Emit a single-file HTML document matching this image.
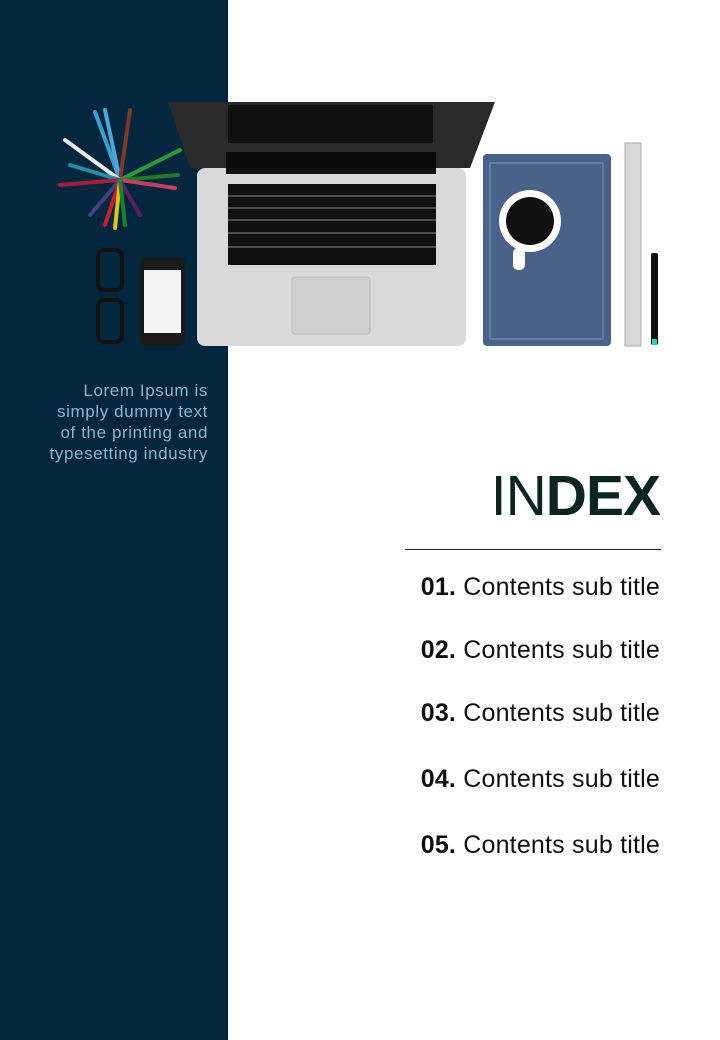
<!DOCTYPE html>
<html><head><meta charset="utf-8"><style>
body{margin:0;width:720px;height:1040px;position:relative;background:#fff;font-family:"Liberation Sans",sans-serif;overflow:hidden}
.l{position:absolute;left:0;top:0;width:228px;height:1040px;background:#03263f}
.a{position:absolute}
.lorem{position:absolute;right:512px;top:380px;text-align:right;color:#8ab6cf;font-size:17px;letter-spacing:0.6px;line-height:21px;white-space:nowrap}
.idx{position:absolute;right:60px;top:463px;font-size:57px;color:#0b2620;letter-spacing:-1px}
.hr{position:absolute;left:405px;top:549px;width:256px;height:1px;background:#222}
.it{position:absolute;right:60px;font-size:25px;color:#111;white-space:nowrap;letter-spacing:0.2px}
</style></head><body>
<div class="l"></div>
<svg class="a" style="left:0;top:0" width="720" height="360">
<g stroke-width="4" stroke-linecap="round">
<line x1="120" y1="180" x2="95" y2="112" stroke="#3aa0d0"/>
<line x1="120" y1="180" x2="105" y2="110" stroke="#4aa8d8"/>
<line x1="120" y1="180" x2="130" y2="110" stroke="#7a3a2a"/>
<line x1="120" y1="180" x2="65" y2="140" stroke="#e8e8e8"/>
<line x1="120" y1="180" x2="70" y2="165" stroke="#2a8aa8"/>
<line x1="120" y1="180" x2="180" y2="150" stroke="#2a9a3a"/>
<line x1="120" y1="180" x2="178" y2="175" stroke="#1a7a2a"/>
<line x1="120" y1="180" x2="175" y2="188" stroke="#c04060"/>
<line x1="120" y1="180" x2="60" y2="185" stroke="#a02040"/>
<line x1="120" y1="180" x2="90" y2="215" stroke="#404080"/>
<line x1="120" y1="180" x2="105" y2="225" stroke="#c02030"/>
<line x1="120" y1="180" x2="115" y2="228" stroke="#e0c020"/>
<line x1="120" y1="180" x2="140" y2="215" stroke="#602060"/>
<line x1="120" y1="180" x2="125" y2="225" stroke="#208030"/>
</g>
<g fill="none" stroke="#111" stroke-width="4">
<rect x="98" y="250" width="24" height="40" rx="6"/><rect x="98" y="300" width="24" height="42" rx="6"/>
</g>
<rect x="140" y="257" width="45" height="89" rx="6" fill="#1a1a1a"/>
<rect x="144" y="270" width="37" height="63" fill="#f4f4f4"/>
<polygon points="168,102 495,102 470,168 190,168" fill="#2a2a2a"/>
<rect x="228" y="105" width="205" height="38" fill="#111"/>
<rect x="226" y="152" width="210" height="20" fill="#0a0a0a"/>
<rect x="197" y="168" width="269" height="178" rx="8" fill="#d9d9d9"/>
<rect x="226" y="168" width="210" height="6" fill="#111"/>
<rect x="228" y="184" width="208" height="81" fill="#111"/>
<g stroke="#888" stroke-width="1"><line x1="228" y1="196" x2="436" y2="196"/><line x1="228" y1="208" x2="436" y2="208"/><line x1="228" y1="220" x2="436" y2="220"/><line x1="228" y1="233" x2="436" y2="233"/><line x1="228" y1="247" x2="436" y2="247"/></g>
<rect x="292" y="277" width="78" height="57" rx="3" fill="#cfcfcf" stroke="#bbb"/>
<rect x="483" y="154" width="128" height="192" rx="4" fill="#4a6189"/>
<rect x="490" y="163" width="113" height="176" fill="none" stroke="#7d92b4" stroke-width="1"/>
<circle cx="530" cy="221" r="31" fill="#fff"/><circle cx="530" cy="221" r="24" fill="#111"/>
<rect x="513" y="248" width="12" height="22" rx="5" fill="#fff"/>
<rect x="625" y="143" width="16" height="203" fill="#d8d8d8" stroke="#aaa"/>
<rect x="651" y="253" width="7" height="92" rx="2" fill="#111"/><rect x="652" y="339" width="5" height="6" fill="#3cc"/>
</svg>
<div class="lorem">Lorem Ipsum is<br>simply dummy text<br>of the printing and<br>typesetting industry</div>
<div class="idx">IN<b>DEX</b></div>
<div class="hr"></div>
<div class="it" style="top:573px"><b>01.</b> Contents sub title</div>
<div class="it" style="top:636px"><b>02.</b> Contents sub title</div>
<div class="it" style="top:699px"><b>03.</b> Contents sub title</div>
<div class="it" style="top:765px"><b>04.</b> Contents sub title</div>
<div class="it" style="top:831px"><b>05.</b> Contents sub title</div>
</body></html>
